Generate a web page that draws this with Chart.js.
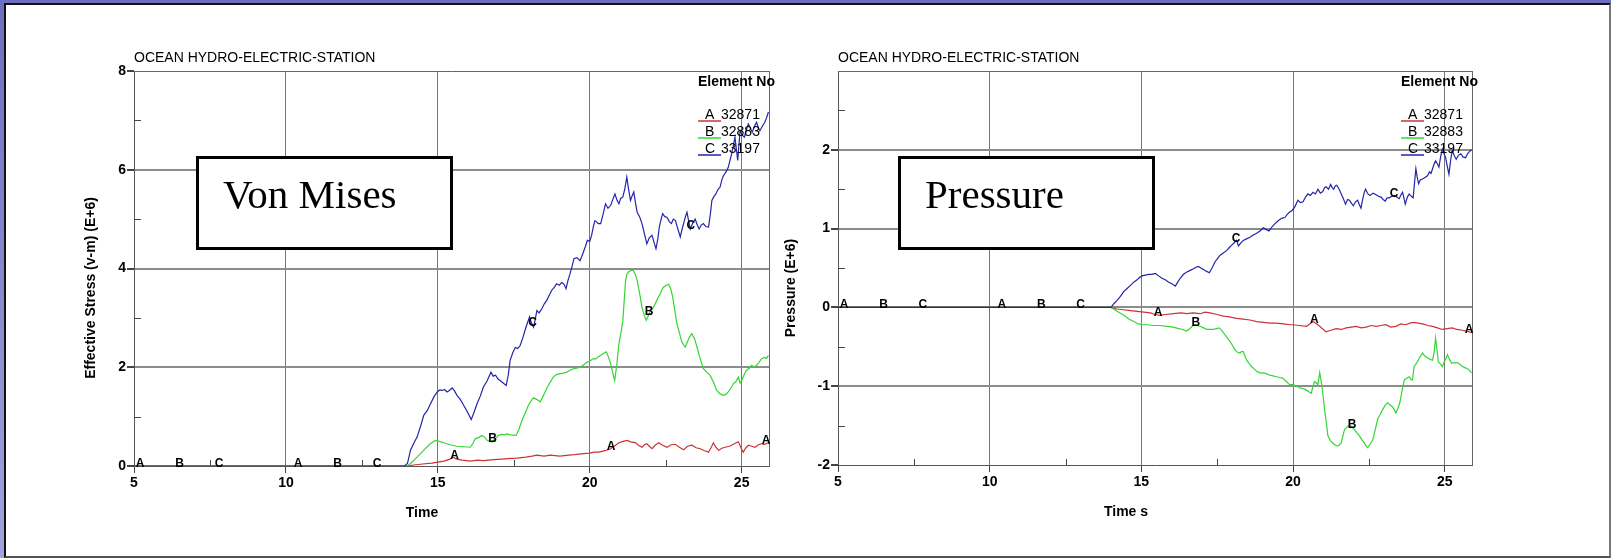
<!DOCTYPE html>
<html>
<head>
<meta charset="utf-8">
<script src="https://cdn.jsdelivr.net/npm/chart.js@4.4.1/dist/chart.umd.min.js"></script>
<style>
  html, body { margin: 0; padding: 0; }
  body { width: 1611px; height: 558px; position: relative; overflow: hidden;
         background: linear-gradient(to bottom, #6e6ec0, #a2a2dc); }
  #frame { position: absolute; left: 4px; top: 3px; width: 1607px; height: 555px; box-sizing: border-box;
           background: #fff; border-top: 2px solid #111; border-left: 2px solid #111;
           border-right: 2px solid #777; border-bottom: 2px solid #555; }
  canvas { position: absolute; top: 0; }
  #cLeft { left: 0; }
  #cRight { left: 760px; }
</style>
</head>
<body>
<div id="frame"></div>
<canvas id="cLeft" width="800" height="558"></canvas>
<canvas id="cRight" width="851" height="558"></canvas>
<script>
// ---------------- DATA ----------------
const chartTitle = 'OCEAN HYDRO-ELECTRIC-STATION';
const seriesLetters = ['A', 'B', 'C'];
const elementNos = ['32871', '32883', '33197'];
const seriesColors = ['#cc3333', '#33d633', '#2424aa'];
const legendHeader = 'Element No';

const xMajorTicks = [5, 10, 15, 20, 25];
const vmYMajorTicks = [0, 2, 4, 6, 8];
const prYMajorTicks = [-2, -1, 0, 1, 2];

// letter-marker times along curves
const letterTimesA = [5.2, 10.4, 15.55, 20.7, 25.86];
const letterTimesB = [6.5, 11.7, 16.8, 21.95];
const letterTimesC = [7.8, 13.0, 18.12, 23.33];

// Von Mises, element 32871 (A)
const vmA = [[5,0],[14.0,0],[14.2,0.02],[14.5,0.04],[14.8,0.06],[15.0,0.08],[15.2,0.10],[15.4,0.14],[15.5,0.18],[15.62,0.14],[15.8,0.12],[16.07,0.10],[16.3,0.12],[16.5,0.11],[16.84,0.13],[17.1,0.14],[17.3,0.15],[17.6,0.16],[17.9,0.18],[18.1,0.20],[18.26,0.22],[18.5,0.20],[18.7,0.22],[19.02,0.20],[19.3,0.22],[19.5,0.23],[19.8,0.25],[20.0,0.26],[20.15,0.28],[20.31,0.28],[20.5,0.31],[20.69,0.35],[20.85,0.42],[20.96,0.47],[21.1,0.50],[21.23,0.52],[21.35,0.49],[21.51,0.47],[21.6,0.42],[21.72,0.38],[21.8,0.43],[21.88,0.45],[21.96,0.40],[22.05,0.35],[22.15,0.42],[22.27,0.47],[22.4,0.42],[22.54,0.38],[22.68,0.43],[22.82,0.44],[22.95,0.38],[23.09,0.33],[23.22,0.40],[23.36,0.42],[23.5,0.37],[23.64,0.35],[23.78,0.31],[23.91,0.28],[24.0,0.38],[24.07,0.47],[24.15,0.38],[24.24,0.32],[24.35,0.36],[24.45,0.38],[24.6,0.40],[24.73,0.44],[24.82,0.47],[24.89,0.49],[24.97,0.38],[25.05,0.28],[25.13,0.36],[25.22,0.42],[25.33,0.40],[25.44,0.38],[25.55,0.43],[25.65,0.45],[25.75,0.44],[25.88,0.47]];
// Von Mises, element 32883 (B)
const vmB = [[5,0],[14.0,0],[14.1,0.05],[14.3,0.17],[14.54,0.32],[14.75,0.45],[14.92,0.52],[15.05,0.50],[15.2,0.47],[15.4,0.43],[15.63,0.40],[15.85,0.39],[16.07,0.38],[16.15,0.45],[16.23,0.55],[16.35,0.58],[16.45,0.62],[16.55,0.58],[16.62,0.52],[16.7,0.50],[16.79,0.49],[16.9,0.56],[17.0,0.62],[17.1,0.64],[17.2,0.63],[17.27,0.65],[17.4,0.63],[17.58,0.62],[17.67,0.75],[17.77,0.92],[17.88,1.08],[17.98,1.23],[18.07,1.32],[18.15,1.38],[18.25,1.35],[18.37,1.30],[18.47,1.42],[18.58,1.57],[18.7,1.70],[18.8,1.80],[18.9,1.85],[19.02,1.87],[19.13,1.88],[19.24,1.90],[19.35,1.94],[19.46,1.97],[19.57,1.98],[19.68,2.00],[19.8,2.05],[19.9,2.10],[20.0,2.12],[20.1,2.17],[20.2,2.17],[20.3,2.22],[20.42,2.27],[20.55,2.31],[20.62,2.20],[20.69,2.07],[20.76,1.88],[20.82,1.73],[20.89,2.05],[20.96,2.48],[21.03,2.70],[21.09,2.95],[21.14,3.40],[21.18,3.76],[21.22,3.88],[21.27,3.93],[21.35,3.96],[21.43,3.96],[21.5,3.88],[21.56,3.76],[21.64,3.50],[21.72,3.22],[21.79,3.05],[21.86,2.95],[21.93,3.05],[22.0,3.15],[22.08,3.20],[22.16,3.29],[22.24,3.40],[22.32,3.49],[22.38,3.58],[22.43,3.62],[22.52,3.66],[22.6,3.68],[22.67,3.58],[22.73,3.42],[22.8,3.15],[22.87,2.88],[22.95,2.70],[23.03,2.51],[23.09,2.45],[23.14,2.41],[23.22,2.52],[23.29,2.62],[23.36,2.68],[23.45,2.58],[23.53,2.41],[23.62,2.20],[23.74,1.97],[23.85,1.90],[23.96,1.84],[24.07,1.70],[24.18,1.53],[24.29,1.46],[24.4,1.43],[24.48,1.45],[24.56,1.50],[24.65,1.58],[24.73,1.67],[24.8,1.70],[24.89,1.80],[24.95,1.68],[25.0,1.73],[25.08,1.85],[25.16,1.94],[25.25,1.98],[25.33,2.04],[25.41,2.00],[25.49,2.04],[25.57,2.10],[25.65,2.17],[25.75,2.20],[25.82,2.18],[25.88,2.24]];
// Von Mises, element 33197 (C)
const vmC = [[5,0],[13.9,0],[14.0,0.05],[14.1,0.32],[14.2,0.45],[14.32,0.59],[14.43,0.80],[14.54,1.03],[14.65,1.12],[14.76,1.26],[14.87,1.40],[14.98,1.50],[15.06,1.54],[15.14,1.53],[15.22,1.55],[15.3,1.50],[15.38,1.53],[15.47,1.58],[15.55,1.52],[15.63,1.43],[15.74,1.35],[15.85,1.23],[15.97,1.10],[16.1,0.94],[16.2,1.10],[16.29,1.26],[16.4,1.42],[16.5,1.60],[16.62,1.72],[16.75,1.90],[16.82,1.82],[16.9,1.84],[16.98,1.76],[17.05,1.73],[17.15,1.68],[17.25,1.63],[17.32,1.85],[17.38,2.14],[17.47,2.30],[17.55,2.40],[17.63,2.38],[17.71,2.44],[17.8,2.60],[17.87,2.75],[17.95,2.90],[18.02,3.02],[18.08,2.90],[18.15,2.81],[18.2,2.95],[18.26,3.15],[18.33,3.10],[18.42,3.18],[18.5,3.28],[18.58,3.35],[18.66,3.45],[18.75,3.56],[18.83,3.62],[18.91,3.69],[19.0,3.66],[19.08,3.72],[19.15,3.68],[19.22,3.59],[19.28,3.75],[19.35,3.89],[19.42,4.05],[19.48,4.20],[19.58,4.22],[19.68,4.16],[19.74,4.25],[19.79,4.33],[19.86,4.45],[19.92,4.57],[20.0,4.55],[20.06,4.67],[20.12,4.85],[20.17,4.97],[20.22,4.95],[20.28,4.91],[20.36,4.91],[20.44,5.10],[20.52,5.31],[20.6,5.22],[20.69,5.28],[20.76,5.40],[20.83,5.51],[20.9,5.38],[20.96,5.31],[21.02,5.42],[21.09,5.45],[21.15,5.60],[21.22,5.85],[21.28,5.60],[21.34,5.38],[21.4,5.48],[21.45,5.55],[21.5,5.35],[21.56,5.14],[21.64,5.05],[21.72,4.91],[21.8,4.70],[21.88,4.50],[21.96,4.62],[22.05,4.67],[22.12,4.52],[22.18,4.40],[22.24,4.60],[22.29,4.84],[22.35,5.00],[22.4,5.11],[22.47,5.05],[22.54,5.04],[22.62,4.95],[22.69,4.91],[22.75,5.00],[22.82,4.97],[22.9,4.80],[22.98,4.64],[23.04,4.80],[23.09,4.91],[23.15,5.05],[23.2,5.14],[23.26,4.95],[23.31,4.80],[23.39,4.92],[23.47,5.00],[23.54,4.88],[23.6,4.80],[23.67,4.88],[23.74,4.91],[23.82,4.85],[23.91,4.84],[23.97,5.10],[24.02,5.38],[24.08,5.45],[24.15,5.51],[24.22,5.60],[24.29,5.65],[24.35,5.80],[24.4,5.88],[24.48,5.95],[24.56,6.05],[24.62,6.20],[24.67,6.32],[24.73,6.50],[24.78,6.66],[24.83,6.40],[24.87,6.19],[24.91,6.50],[24.95,6.79],[25.02,6.70],[25.09,6.66],[25.15,6.80],[25.22,6.93],[25.28,6.85],[25.35,6.76],[25.42,6.88],[25.49,6.96],[25.55,6.85],[25.6,6.79],[25.68,6.88],[25.76,6.96],[25.82,7.05],[25.88,7.17]];

// Pressure, element 32871 (A)
const prA = [[5,0],[14.0,0],[14.2,-0.02],[14.42,-0.03],[14.64,-0.04],[14.86,-0.05],[15.08,-0.06],[15.3,-0.07],[15.46,-0.09],[15.62,-0.10],[15.8,-0.09],[16.06,-0.08],[16.3,-0.07],[16.5,-0.08],[16.7,-0.07],[16.94,-0.08],[17.1,-0.06],[17.26,-0.07],[17.5,-0.09],[17.7,-0.11],[17.9,-0.12],[18.14,-0.14],[18.36,-0.15],[18.58,-0.16],[18.8,-0.18],[19.02,-0.19],[19.25,-0.20],[19.45,-0.20],[19.7,-0.21],[19.89,-0.22],[20.0,-0.22],[20.2,-0.23],[20.44,-0.24],[20.55,-0.21],[20.66,-0.18],[20.78,-0.21],[20.88,-0.24],[21.0,-0.28],[21.09,-0.31],[21.25,-0.29],[21.42,-0.27],[21.6,-0.28],[21.75,-0.26],[21.92,-0.25],[22.08,-0.24],[22.25,-0.26],[22.41,-0.25],[22.58,-0.23],[22.74,-0.24],[22.9,-0.23],[23.06,-0.22],[23.22,-0.25],[23.39,-0.24],[23.55,-0.21],[23.72,-0.22],[23.85,-0.20],[23.99,-0.19],[24.13,-0.20],[24.27,-0.21],[24.44,-0.23],[24.6,-0.24],[24.76,-0.26],[24.92,-0.28],[25.08,-0.27],[25.25,-0.26],[25.4,-0.28],[25.58,-0.29],[25.72,-0.30],[25.88,-0.32]];
// Pressure, element 32883 (B)
const prB = [[5,0],[14.0,0],[14.2,-0.05],[14.42,-0.10],[14.6,-0.15],[14.75,-0.18],[14.9,-0.21],[15.02,-0.22],[15.2,-0.22],[15.4,-0.23],[15.6,-0.23],[15.84,-0.24],[16.05,-0.25],[16.23,-0.27],[16.36,-0.28],[16.48,-0.30],[16.6,-0.27],[16.72,-0.22],[16.83,-0.23],[16.94,-0.24],[17.05,-0.26],[17.16,-0.28],[17.27,-0.28],[17.37,-0.28],[17.47,-0.27],[17.57,-0.26],[17.67,-0.30],[17.76,-0.35],[17.84,-0.39],[17.92,-0.43],[18.0,-0.48],[18.09,-0.54],[18.17,-0.57],[18.25,-0.58],[18.3,-0.56],[18.36,-0.56],[18.41,-0.61],[18.47,-0.67],[18.55,-0.71],[18.63,-0.75],[18.72,-0.78],[18.8,-0.81],[18.91,-0.83],[19.02,-0.83],[19.12,-0.84],[19.23,-0.86],[19.34,-0.87],[19.45,-0.88],[19.56,-0.89],[19.67,-0.90],[19.78,-0.94],[19.89,-0.98],[20.0,-0.98],[20.11,-1.00],[20.22,-1.02],[20.33,-1.03],[20.44,-1.05],[20.52,-1.07],[20.6,-1.09],[20.66,-1.00],[20.71,-0.94],[20.77,-0.96],[20.82,-0.98],[20.88,-0.83],[20.92,-0.92],[20.96,-1.02],[21.0,-1.15],[21.04,-1.30],[21.1,-1.47],[21.15,-1.63],[21.23,-1.69],[21.31,-1.72],[21.4,-1.75],[21.48,-1.76],[21.54,-1.74],[21.59,-1.72],[21.65,-1.62],[21.7,-1.55],[21.78,-1.52],[21.86,-1.49],[21.94,-1.52],[22.02,-1.55],[22.1,-1.59],[22.19,-1.63],[22.27,-1.68],[22.35,-1.72],[22.41,-1.76],[22.46,-1.78],[22.55,-1.73],[22.63,-1.68],[22.71,-1.55],[22.79,-1.42],[22.87,-1.36],[22.95,-1.30],[23.04,-1.24],[23.12,-1.21],[23.2,-1.24],[23.28,-1.26],[23.34,-1.30],[23.39,-1.34],[23.46,-1.28],[23.52,-1.21],[23.6,-1.05],[23.67,-0.92],[23.75,-0.90],[23.83,-0.88],[23.9,-0.92],[23.94,-0.92],[23.99,-0.75],[24.05,-0.72],[24.1,-0.69],[24.18,-0.63],[24.27,-0.58],[24.35,-0.62],[24.43,-0.64],[24.52,-0.66],[24.6,-0.67],[24.66,-0.55],[24.7,-0.39],[24.75,-0.55],[24.79,-0.69],[24.86,-0.72],[24.92,-0.75],[25.0,-0.68],[25.09,-0.60],[25.16,-0.66],[25.23,-0.71],[25.32,-0.70],[25.42,-0.70],[25.5,-0.72],[25.58,-0.75],[25.7,-0.77],[25.8,-0.79],[25.88,-0.83]];
// Pressure, element 33197 (C)
const prC = [[5,0],[14.0,0],[14.1,0.05],[14.2,0.09],[14.31,0.14],[14.42,0.20],[14.53,0.24],[14.64,0.28],[14.75,0.32],[14.86,0.35],[14.94,0.38],[15.02,0.40],[15.13,0.41],[15.24,0.42],[15.35,0.42],[15.46,0.43],[15.57,0.40],[15.68,0.37],[15.79,0.35],[15.9,0.32],[16.01,0.30],[16.12,0.27],[16.2,0.32],[16.28,0.37],[16.39,0.42],[16.5,0.45],[16.61,0.47],[16.72,0.49],[16.8,0.51],[16.88,0.52],[16.96,0.50],[17.05,0.48],[17.14,0.46],[17.24,0.44],[17.33,0.50],[17.43,0.58],[17.51,0.62],[17.59,0.66],[17.7,0.69],[17.81,0.72],[17.9,0.76],[17.98,0.79],[18.06,0.82],[18.14,0.85],[18.2,0.78],[18.28,0.82],[18.36,0.85],[18.47,0.87],[18.58,0.89],[18.69,0.92],[18.8,0.94],[18.91,0.97],[19.02,1.01],[19.11,0.99],[19.21,0.97],[19.3,1.02],[19.4,1.06],[19.51,1.10],[19.62,1.13],[19.73,1.14],[19.81,1.18],[19.89,1.21],[19.97,1.23],[20.05,1.27],[20.11,1.32],[20.16,1.36],[20.25,1.33],[20.33,1.34],[20.41,1.40],[20.49,1.44],[20.57,1.42],[20.66,1.46],[20.74,1.44],[20.82,1.50],[20.9,1.45],[20.98,1.47],[21.04,1.52],[21.09,1.53],[21.17,1.50],[21.24,1.56],[21.29,1.52],[21.34,1.50],[21.39,1.54],[21.44,1.55],[21.52,1.50],[21.59,1.44],[21.66,1.38],[21.73,1.31],[21.8,1.37],[21.86,1.36],[21.93,1.32],[21.99,1.29],[22.06,1.34],[22.13,1.36],[22.19,1.30],[22.24,1.26],[22.3,1.38],[22.35,1.46],[22.39,1.50],[22.47,1.44],[22.54,1.42],[22.64,1.45],[22.74,1.43],[22.82,1.41],[22.9,1.40],[22.97,1.37],[23.04,1.35],[23.1,1.39],[23.17,1.39],[23.26,1.41],[23.34,1.42],[23.42,1.40],[23.5,1.38],[23.56,1.43],[23.61,1.46],[23.66,1.38],[23.7,1.31],[23.77,1.40],[23.83,1.44],[23.9,1.41],[23.96,1.39],[24.01,1.60],[24.05,1.76],[24.1,1.64],[24.14,1.57],[24.2,1.62],[24.27,1.63],[24.35,1.65],[24.43,1.67],[24.5,1.72],[24.55,1.70],[24.6,1.76],[24.65,1.82],[24.7,1.86],[24.76,1.82],[24.81,1.78],[24.87,1.92],[24.92,2.01],[24.97,1.96],[25.03,1.90],[25.08,1.80],[25.14,1.69],[25.2,1.88],[25.25,1.99],[25.32,1.92],[25.38,1.88],[25.45,1.93],[25.53,1.95],[25.6,1.91],[25.69,1.90],[25.75,1.95],[25.8,1.97],[25.88,2.0]];

// ---------------- RENDERING ----------------
const SANS = '"Liberation Sans", Arial, Helvetica, sans-serif';
const SERIF = '"Liberation Serif", "Times New Roman", Times, serif';
const letterTimes = [letterTimesA, letterTimesB, letterTimesC];
const near = (a, b) => Math.abs(a - b) < 1e-6;
const isIn = (arr, v) => arr.some(a => near(a, v));

function valueAt(data, t) {
  for (let i = 1; i < data.length; i++) {
    if (data[i].x >= t) {
      const a = data[i - 1], b = data[i];
      const f = (t - a.x) / (b.x - a.x || 1);
      return a.y + f * (b.y - a.y);
    }
  }
  return data[data.length - 1].y;
}

const decoPlugin = {
  id: 'deco',
  beforeDatasetsDraw(chart, args, o) {
    const ctx = chart.ctx, ca = chart.chartArea;
    const xs = chart.scales.x, ys = chart.scales.y;
    ctx.save();
    // top & right frame edges
    ctx.strokeStyle = '#666';
    ctx.lineWidth = 1;
    ctx.beginPath();
    ctx.moveTo(ca.left, Math.round(ca.top) + 0.5);
    ctx.lineTo(ca.right, Math.round(ca.top) + 0.5);
    ctx.moveTo(Math.round(ca.right) + 0.5, ca.top);
    ctx.lineTo(Math.round(ca.right) + 0.5, ca.bottom);
    ctx.stroke();
    // inward minor ticks
    ctx.strokeStyle = '#444';
    ctx.beginPath();
    xs.ticks.forEach(t => {
      if (!isIn(xMajorTicks, t.value)) {
        const px = Math.round(xs.getPixelForValue(t.value)) + 0.5;
        ctx.moveTo(px, ca.bottom); ctx.lineTo(px, ca.bottom - 6);
      }
    });
    ys.ticks.forEach(t => {
      if (!isIn(o.yMajor, t.value) && t.value < ys.max - 1e-6) {
        const py = Math.round(ys.getPixelForValue(t.value)) + 0.5;
        ctx.moveTo(ca.left, py); ctx.lineTo(ca.left + 7, py);
      }
    });
    ctx.stroke();
    ctx.restore();
  },
  afterDatasetsDraw(chart, args, o) {
    const ctx = chart.ctx, ca = chart.chartArea;
    const xs = chart.scales.x, ys = chart.scales.y;
    ctx.save();
    // letter markers on curves
    ctx.fillStyle = '#000';
    ctx.font = 'bold 12px ' + SANS;
    ctx.textAlign = 'center';
    ctx.textBaseline = 'alphabetic';
    chart.data.datasets.forEach(ds => {
      const k = ds.seriesIndex;
      letterTimes[k].forEach(t => {
        const px = xs.getPixelForValue(t);
        const py = ys.getPixelForValue(valueAt(ds.data, t));
        ctx.fillText(seriesLetters[k], Math.min(px, ca.right - 3), py + 1);
      });
    });
    // legend
    const lx = ca.right - 71;
    ctx.textAlign = 'left';
    ctx.textBaseline = 'middle';
    ctx.font = 'bold 14px ' + SANS;
    ctx.fillText(legendHeader, lx, ca.top + 11);
    ctx.font = '14px ' + SANS;
    seriesLetters.forEach((s, i) => {
      const cy = ca.top + 44 + i * 17;
      ctx.fillStyle = '#000';
      ctx.fillText(s, lx + 7, cy);
      ctx.fillText(elementNos[i], lx + 23, cy);
      ctx.strokeStyle = seriesColors[i];
      ctx.lineWidth = 1.5;
      ctx.beginPath();
      ctx.moveTo(lx, cy + 6); ctx.lineTo(lx + 23, cy + 6);
      ctx.stroke();
    });
    // label box
    const bx = ca.left + o.boxDx, by = ca.top + 85, bw = 257, bh = 94;
    ctx.fillStyle = '#fff';
    ctx.fillRect(bx, by, bw, bh);
    ctx.strokeStyle = '#000';
    ctx.lineWidth = 3;
    ctx.strokeRect(bx + 1.5, by + 1.5, bw - 3, bh - 3);
    ctx.fillStyle = '#000';
    ctx.font = '41px ' + SERIF;
    ctx.textBaseline = 'alphabetic';
    ctx.fillText(o.boxText, bx + 27, by + 52);
    // chart title
    ctx.font = '14px ' + SANS;
    ctx.textBaseline = 'middle';
    ctx.fillText(chartTitle, ca.left, ca.top - 13);
    // x axis title
    ctx.font = 'bold 14px ' + SANS;
    ctx.textAlign = 'center';
    ctx.fillText(o.xTitle, ca.left + 288, ca.bottom + 47);
    // y axis title
    ctx.translate(ca.left - o.yTitleDx, ca.top + 217);
    ctx.rotate(-Math.PI / 2);
    ctx.fillText(o.yTitle, 0, 0);
    ctx.restore();
  }
};

function makeChart(id, series, yMin, yMax, yStep, yMajor, yAxisW, xAxisH, padRight, deco) {
  const datasets = [2, 1, 0].map(k => ({
    seriesIndex: k,
    data: series[k].map(p => ({ x: p[0], y: p[1] })),
    borderColor: seriesColors[k],
    borderWidth: 1.2,
    pointRadius: 0,
    tension: 0,
    fill: false
  }));
  const tickFont = { family: SANS, size: 14, weight: 'bold' };
  return new Chart(document.getElementById(id), {
    type: 'line',
    data: { datasets },
    options: {
      responsive: false,
      animation: false,
      devicePixelRatio: 1,
      layout: { padding: { left: 0, top: 71, right: padRight, bottom: 0 } },
      plugins: {
        legend: { display: false },
        tooltip: { enabled: false },
        title: { display: false },
        deco: Object.assign({ yMajor }, deco)
      },
      scales: {
        x: {
          type: 'linear', min: 5, max: 25.9,
          afterFit: s => { s.height = xAxisH; },
          ticks: {
            stepSize: 2.5, includeBounds: false, autoSkip: false, maxRotation: 0, padding: 2,
            color: '#000', font: tickFont,
            callback: v => isIn(xMajorTicks, v) ? String(v) : ''
          },
          grid: {
            drawTicks: true, tickLength: 7, lineWidth: 1,
            color: c => (c.tick && isIn(xMajorTicks, c.tick.value) && !near(c.tick.value, 5)) ? '#777' : 'rgba(0,0,0,0)',
            tickColor: c => (c.tick && isIn(xMajorTicks, c.tick.value)) ? '#444' : 'rgba(0,0,0,0)'
          },
          border: { display: true, color: '#555', width: 1 }
        },
        y: {
          type: 'linear', min: yMin, max: yMax,
          afterFit: s => { s.width = yAxisW; },
          ticks: {
            stepSize: yStep, autoSkip: false, padding: 1,
            color: '#000', font: tickFont,
            callback: v => isIn(yMajor, v) ? String(v) : ''
          },
          grid: {
            drawTicks: true, tickLength: 7, lineWidth: 2,
            color: c => (c.tick && isIn(yMajor, c.tick.value) && !near(c.tick.value, yMin) && !near(c.tick.value, yMax)) ? '#8c8c8c' : 'rgba(0,0,0,0)',
            tickColor: c => (c.tick && isIn(yMajor, c.tick.value)) ? '#444' : 'rgba(0,0,0,0)'
          },
          border: { display: true, color: '#555', width: 1 }
        }
      }
    },
    plugins: [decoPlugin]
  });
}

makeChart('cLeft', [vmA, vmB, vmC], 0, 8, 1, vmYMajorTicks, 134, 92, 31,
  { boxText: 'Von Mises', boxDx: 62, xTitle: 'Time', yTitle: 'Effective Stress (v-m) (E+6)', yTitleDx: 43 });
makeChart('cRight', [prA, prB, prC], -2, 3, 0.5, prYMajorTicks, 78, 93, 139,
  { boxText: 'Pressure', boxDx: 60, xTitle: 'Time s', yTitle: 'Pressure (E+6)', yTitleDx: 47 });
</script>
</body>
</html>
